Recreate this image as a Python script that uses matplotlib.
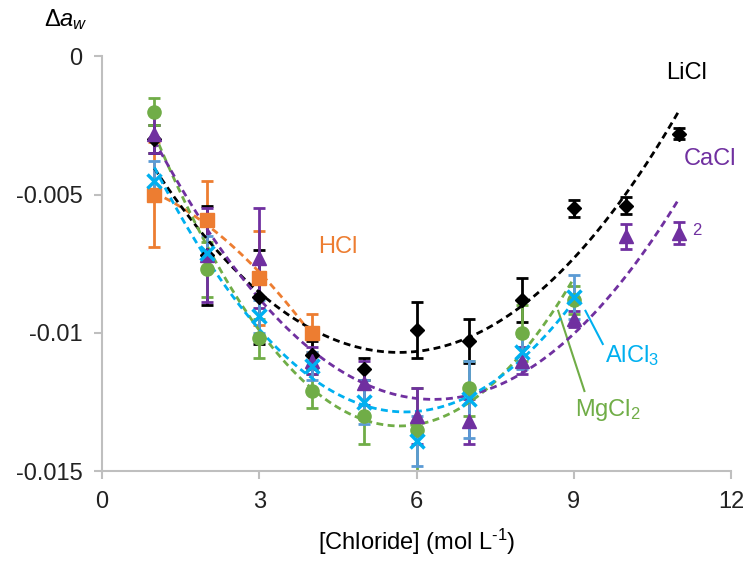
import numpy as np
import matplotlib
matplotlib.use('Agg')
import matplotlib.pyplot as plt

plt.rcParams['font.family'] = ['Liberation Sans', 'DejaVu Sans']
plt.rcParams['mathtext.fontset'] = 'custom'
plt.rcParams['mathtext.rm'] = 'Liberation Sans'
plt.rcParams['mathtext.it'] = 'Liberation Sans:italic'

# data
x_licl = [1, 2, 3, 4, 5, 6, 7, 8, 9, 10, 11]
y_licl = [-0.0030, -0.0072, -0.0087, -0.0108, -0.0113, -0.0099, -0.0103, -0.0088, -0.0055, -0.0054, -0.0028]
e_licl = [0.0005, 0.0018, 0.0017, 0.0005, 0.0004, 0.0010, 0.0008, 0.0008, 0.0003, 0.0003, 0.0002]

x_cacl = [1, 2, 3, 4, 5, 6, 7, 8, 9, 10, 11]
y_cacl = [-0.0028, -0.0072, -0.0073, -0.0110, -0.0118, -0.0130, -0.0132, -0.0110, -0.0095, -0.0065, -0.0064]
e_cacl = [0.0007, 0.0017, 0.0018, 0.0005, 0.0008, 0.0010, 0.0008, 0.0005, 0.0003, 0.00045, 0.0004]

x_hcl = [1, 2, 3, 4]
y_hcl = [-0.0050, -0.0059, -0.0080, -0.0100]
e_hcl = [0.0019, 0.0014, 0.0017, 0.0007]

x_mgcl = [1, 2, 3, 4, 5, 6, 7, 8, 9]
y_mgcl = [-0.0020, -0.0077, -0.0102, -0.0121, -0.0130, -0.0135, -0.0120, -0.0100, -0.0088]
e_mgcl = [0.0005, 0.0010, 0.0007, 0.0006, 0.0010, 0.0015, 0.0010, 0.0010, 0.0005]

x_alcl = [1, 2, 3, 4, 5, 6, 7, 8, 9]
y_alcl = [-0.0045, -0.0071, -0.0094, -0.0112, -0.0125, -0.0139, -0.0124, -0.0107, -0.0087]
e_alcl = [0.0007, 0.0006, 0.0006, 0.0005, 0.0008, 0.0009, 0.0014, 0.0006, 0.0008]

series = [
    (x_hcl, y_hcl, e_hcl, 's', '#ED7D31', '#ED7D31'),
    (x_licl, y_licl, e_licl, 'D', 'black', 'black'),
    (x_mgcl, y_mgcl, e_mgcl, 'o', '#70AD47', '#70AD47'),
    (x_cacl, y_cacl, e_cacl, '^', '#7030A0', '#7030A0'),
    (x_alcl, y_alcl, e_alcl, 'x', '#00B0F0', '#5B9BD5'),
]

fig = plt.figure(figsize=(7.5, 5.63), dpi=100)
ax = fig.add_axes([0.136, 0.163, 0.839, 0.737])

for xs, ys, es, mk, col, ecol in series:
    ax.errorbar(xs, ys, yerr=es, fmt='none', ecolor=ecol, elinewidth=2, capsize=4, capthick=2, zorder=2)
    # quadratic trendline
    c = np.polyfit(xs, ys, 2)
    xf = np.linspace(min(xs), max(xs), 100)
    ax.plot(xf, np.polyval(c, xf), color=col, lw=2, linestyle=(0, (2.5, 1.6)), zorder=3)
    if mk == 'x':
        ax.plot(xs, ys, mk, color=col, markersize=10.5, mew=2.5, zorder=4)
    elif mk == 'D':
        ax.plot(xs, ys, mk, color=col, markersize=7.5, zorder=4)
    else:
        ax.plot(xs, ys, mk, color=col, markersize=9.5, zorder=4)

ax.set_xlim(0, 12)
ax.set_ylim(-0.015, 0)
ax.set_xticks([0, 3, 6, 9, 12])
ax.set_yticks([0, -0.005, -0.01, -0.015])
ax.set_yticklabels(['0', '-0.005', '-0.01', '-0.015'])
for s in ['top', 'right']:
    ax.spines[s].set_visible(False)
for s in ['left', 'bottom']:
    ax.spines[s].set_color('#BFBFBF')
    ax.spines[s].set_linewidth(1.5)
ax.tick_params(colors='#BFBFBF', width=1.5, length=6, labelsize=17, labelcolor='#222222', pad=8)

ax.set_xlabel(r'[Chloride] (mol L$^{\mathregular{\text{-}1}}$)', fontsize=17, labelpad=10)
fig.text(0.058, 0.965, r'$\mathit{\Delta a_w}$', fontsize=17, ha='left', va='center')

ax.text(11.15, -0.0006, 'LiCl', fontsize=17, color='black', ha='center', va='center')
ax.text(11.6, -0.0037, 'CaCl', fontsize=17, color='#7030A0', ha='center', va='center')
ax.text(11.25, -0.0063, '2', fontsize=12, color='#7030A0', ha='left', va='center')
ax.text(4.5, -0.0069, 'HCl', fontsize=17, color='#ED7D31', ha='center', va='center')
ax.text(10.1, -0.0108, r'$\mathregular{AlCl_3}$', fontsize=17, color='#00B0F0', ha='center', va='center')
ax.text(9.65, -0.0128, r'$\mathregular{MgCl_2}$', fontsize=17, color='#70AD47', ha='center', va='center')
ax.plot([9.22, 9.55], [-0.0092, -0.0104], color='#00B0F0', lw=1.5)
ax.plot([8.7, 9.2], [-0.0092, -0.0121], color='#70AD47', lw=1.5)

fig.savefig('out.png', dpi=100)
